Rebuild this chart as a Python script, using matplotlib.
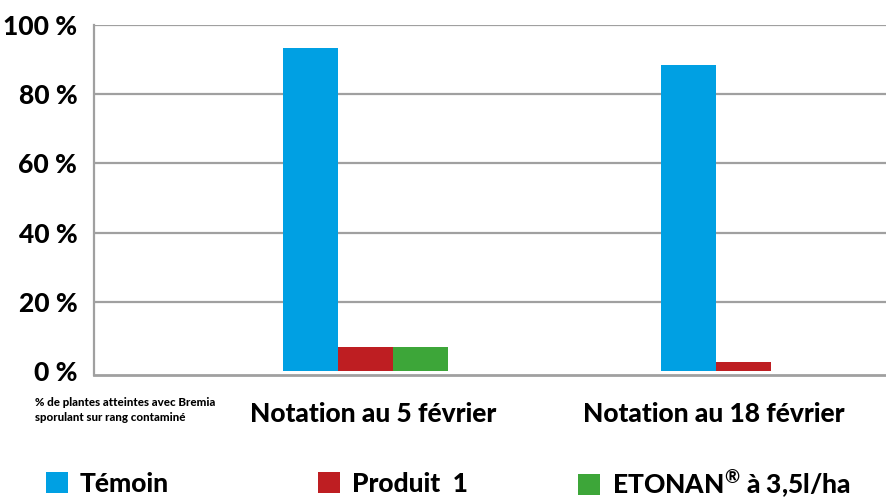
import numpy as np
import matplotlib.pyplot as plt

plt.rcParams['font.family'] = ['Lato', 'DejaVu Sans']
plt.rcParams['mathtext.fontset'] = 'custom'
plt.rcParams['mathtext.rm'] = 'Lato:bold'
plt.rcParams['mathtext.it'] = 'Lato:bold'
plt.rcParams['mathtext.bf'] = 'Lato:bold'

dates = ['Notation au 5 février', 'Notation au 18 février']
series = ['Témoin', 'Produit  1', 'ETONAN$^{®}$ à 3,5l/ha']
temoin = [93.3, 88.4]
produit = [6.8, 2.5]
etonan = [6.8, 0.0]
colors = ['#00A0E3', '#BE1E22', '#3DA639']
y_ticks = [0, 20, 40, 60, 80, 100]
note = '% de plantes atteintes avec Bremia\nsporulant sur rang contaminé'

fig = plt.figure(figsize=(8.86, 5), dpi=100)
ax = fig.add_axes([94 / 886, 0.25, 1 - 94 / 886, 0.70])

x = np.arange(len(dates))
w = 0.1453
bars = []
for i, (vals, c) in enumerate(zip([temoin, produit, etonan], colors)):
    b = ax.bar(x + (i - 1) * w, vals, w, color=c, linewidth=0, zorder=3)
    bars.append(b)

ax.set_xlim(-0.716, 1.376)
ax.set_ylim(-1.2, 100)
ax.set_yticks(y_ticks)
ax.set_yticklabels([f'{v} %' for v in y_ticks], fontsize=19, fontweight=900)
ax.tick_params(axis='y', length=0, pad=12)
ax.set_xticks([])
for v in y_ticks[1:]:
    ax.axhline(v, color='#a0a0a0', lw=1.6, zorder=1)
for s in ['top', 'right']:
    ax.spines[s].set_visible(False)
ax.spines['left'].set_color('#a0a0a0')
ax.spines['left'].set_linewidth(1.6)
ax.spines['bottom'].set_color('#a0a0a0')
ax.spines['bottom'].set_linewidth(2)

# date labels under the groups
label_x = [0.02, 0.92]
for lx, d in zip(label_x, dates):
    ax.text(lx, -0.11, d, transform=ax.get_xaxis_transform(), ha='center', va='center',
            fontsize=19, fontweight=900)

fig.text(35 / 886, 1 - 410 / 500, note, ha='left', va='center', fontsize=8.3,
         fontweight=900, linespacing=1.5)

# legend, one entry per position
leg_x = [46 / 886, 318 / 886, 578 / 886]
for b, name, lx in zip(bars, series, leg_x):
    fig.legend(handles=[b], labels=[name], loc='center left', bbox_to_anchor=(lx, 1 - 484 / 500),
               frameon=False, prop={'weight': 900, 'size': 19}, borderpad=0, borderaxespad=0,
               handlelength=0.83, handleheight=0.83, handletextpad=0.45)

fig.savefig('out.png', dpi=100)
